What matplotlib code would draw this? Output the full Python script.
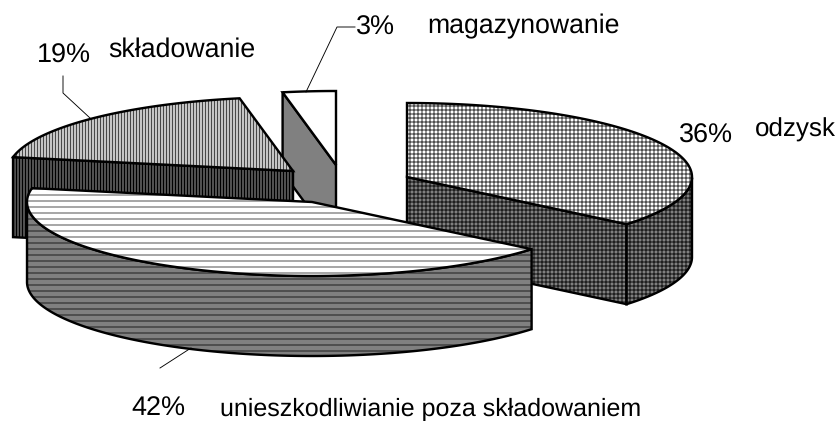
import numpy as np
import matplotlib
matplotlib.use('Agg')
import matplotlib.pyplot as plt
from matplotlib.patches import Polygon

plt.rcParams['font.family'] = ['Liberation Sans', 'DejaVu Sans']
plt.rcParams['hatch.linewidth'] = 1.2
plt.rcParams['text.hinting'] = 'none'

# dane
categories = ['odzysk', 'unieszkodliwianie poza składowaniem', 'składowanie', 'magazynowanie']
values = [36, 42, 19, 3]

# wygląd wycinków
centers = [(407, 177), (312, 202), (293, 171), (336, 165)]
top_colors = ['white', 'white', '#d4d4d4', 'white']
side_colors = ['#808080', '#808080', '#5a5a5a', '#808080']
top_hatch = ['+++', '--', '||||', '']
side_hatch = ['+++', '--', '||||', '']
top_hatch_colors = ['#505050', '#707070', '#484848', 'white']
side_hatch_colors = ['#202020', '#303030', 'black', '#808080']
draw_order = [3, 2, 0, 1]

A = 285   # pozioma półoś
B = 74    # pionowa półoś
DEPTH = 80

fig = plt.figure(figsize=(839 / 72, 421 / 72), dpi=72)
ax = fig.add_axes([0, 0, 1, 1])
ax.set_xlim(0, 839)
ax.set_ylim(421, 0)
ax.axis('off')


def rim(c, t):
    t = np.radians(t)
    return np.column_stack([c[0] + A * np.cos(t), c[1] - B * np.sin(t)])


def face(pts, color, hatch, hatch_color, z):
    ax.add_patch(Polygon(pts, closed=True, facecolor=color, edgecolor=hatch_color,
                         hatch=hatch, lw=0, zorder=z))
    ax.add_patch(Polygon(pts, closed=True, fill=False, edgecolor='black', lw=2.4,
                         joinstyle='miter', zorder=z + 0.1))


def cut_face(c, t, i, z):
    p = rim(c, t)[0]
    pts = [c, p, (p[0], p[1] + DEPTH), (c[0], c[1] + DEPTH)]
    face(pts, side_colors[i], side_hatch[i], side_hatch_colors[i], z)


# kąty wycinków idą od góry zgodnie z ruchem wskazówek zegara
stops = 90 - np.cumsum([0] + values) * 3.6

for z, i in enumerate(draw_order):
    c = centers[i]
    s, e = stops[i], stops[i + 1]
    base = z * 2 + 1

    if np.sin(np.radians(s + 90)) < -1e-6:
        cut_face(c, s, i, base)
    if np.sin(np.radians(e - 90)) < -1e-6:
        cut_face(c, e, i, base)

    # zewnętrzna ścianka, tylko z przodu
    ts = np.linspace(s, e, 200)
    ts = ts[np.sin(np.radians(ts)) < 0]
    if len(ts) > 1:
        r = rim(c, ts)
        low = r[::-1] + [0, DEPTH]
        face(np.vstack([r, low]), side_colors[i], side_hatch[i], side_hatch_colors[i], base + 0.5)

    # góra wycinka
    r = rim(c, np.linspace(s, e, 200))
    face(np.vstack([[c], r]), top_colors[i], top_hatch[i], top_hatch_colors[i], base + 1)

# linie odniesienia
ax.plot([306, 337, 355], [92, 27, 27], color='black', lw=0.9, zorder=20)
ax.plot([90, 63, 63], [118, 93, 76], color='black', lw=0.9, zorder=20)
ax.plot([191, 160], [348, 368], color='black', lw=0.9, zorder=20)

# opisy
pct_fs = 27
name_fs = [26, 25, 26.8, 26.6]
pct_pos = [(679, 143), (131, 416), (37, 63), (356, 35)]
name_pos = [(755, 137), (220, 416), (108, 57), (427, 33)]
for i in range(len(values)):
    ax.text(pct_pos[i][0], pct_pos[i][1], f'{values[i]}%', fontsize=pct_fs, va='baseline', ha='left', zorder=30)
    ax.text(name_pos[i][0], name_pos[i][1], categories[i], fontsize=name_fs[i], va='baseline', ha='left', zorder=30)

fig.savefig('out.png', dpi=72, facecolor='white')
